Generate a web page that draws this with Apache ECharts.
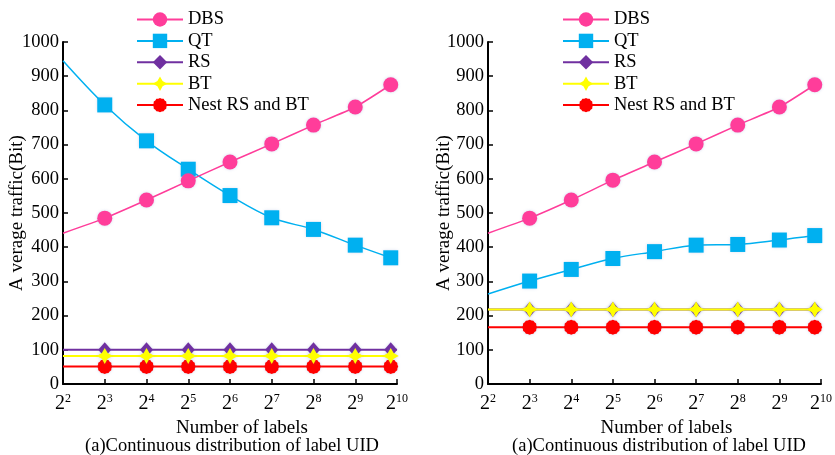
<!DOCTYPE html>
<html>
<head>
<meta charset="utf-8">
<script src="https://cdn.jsdelivr.net/npm/echarts@6/dist/echarts.min.js"></script>
<style>html,body{margin:0;padding:0;background:#fff;}#c{width:835px;height:455px;}</style>
</head>
<body>
<div id="c"></div>
<script>
// ---- data ----
const seriesNames = ['DBS', 'QT', 'RS', 'BT', 'Nest RS and BT'];
const xExponents = [2, 3, 4, 5, 6, 7, 8, 9, 9.85];   // log2(number of labels); first point = curve start (no marker)
const xTickExponents = [2, 3, 4, 5, 6, 7, 8, 9, 10];
const leftDBS  = [441, 485, 538, 594, 649, 702, 757, 810, 875];
const leftQT   = [945, 816, 711, 628, 551, 486, 452, 406, 369];
const leftRS   = [100, 100, 100, 100, 100, 100, 100, 100, 100];
const leftBT   = [82, 82, 82, 82, 82, 82, 82, 82, 82];
const leftNest = [51, 51, 51, 51, 51, 51, 51, 51, 51];
const rightDBS  = [441, 485, 538, 596, 649, 702, 757, 810, 875];
const rightQT   = [263, 301, 335, 367, 387, 406, 408, 421, 434];
const rightRS   = [218, 218, 218, 218, 218, 218, 218, 218, 218];
const rightBT   = [218, 218, 218, 218, 218, 218, 218, 218, 218];
const rightNest = [166, 166, 166, 166, 166, 166, 166, 166, 166];
const yTicks = [0, 100, 200, 300, 400, 500, 600, 700, 800, 900, 1000];
const yName = 'A verage traffic(Bit)';
const xName = 'Number of labels';
const caption = '(a)Continuous distribution of label UID';

// ---- styling ----
const FONT = 'Liberation Serif';
const colors = ['#FF3D9A', '#00B0F0', '#7030A0', '#FFFF00', '#FF0000'];
const starPath = 'path://M0,-10 L3.6,-3.6 L10,0 L3.6,3.6 L0,10 L-3.6,3.6 L-10,0 L-3.6,-3.6 Z';
const burstPath = 'path://' + (function(){
  let s = ''; const n = 24;
  for (let i = 0; i < n; i++) {
    const a = i / n * Math.PI * 2; const r = i % 2 ? 9.2 : 10;
    s += (i ? 'L' : 'M') + (r * Math.cos(a)).toFixed(2) + ',' + (r * Math.sin(a)).toFixed(2) + ' ';
  }
  return s + 'Z';
})();
const symbols = ['circle', 'rect', 'diamond', starPath, burstPath];
const symbolSizes = [15, 15, [13, 15], 16, 15];

function buildData(vals, extendFlat) {
  const d = vals.map((v, i) => {
    const p = { value: [xExponents[i], v] };
    if (i === 0) p.symbol = 'none';
    return p;
  });
  if (extendFlat) d.push({ value: [10, vals[vals.length - 1]], symbol: 'none' });
  return d;
}

function makeSeries(gi, arrs) {
  return arrs.map((vals, k) => ({
    name: seriesNames[k],
    type: 'line',
    xAxisIndex: gi, yAxisIndex: gi,
    data: buildData(vals, k >= 2),
    smooth: k === 1 ? 0.35 : (k === 0 ? 0.2 : false),
    symbol: symbols[k],
    symbolSize: symbolSizes[k],
    showAllSymbol: true,
    z: 10 - k + (k === 3 ? 2 : 0),
    lineStyle: { color: colors[k], width: k >= 2 ? 2 : 1.5 },
    itemStyle: { color: colors[k], shadowColor: 'rgba(120,140,200,0.35)', shadowBlur: 3 },
    emphasis: { disabled: true },
    animation: false
  }));
}

function xAxisCfg(gi) {
  return {
    gridIndex: gi, type: 'value', min: 2, max: 10, interval: 1,
    name: xName, nameLocation: 'middle', nameGap: 35, nameMoveOverlap: false,
    nameTextStyle: { fontFamily: FONT, fontSize: 19, color: '#000', padding: [0, 0, 0, 24] },
    axisLine: { show: true, onZero: false, lineStyle: { color: '#000', width: 2 } },
    axisTick: { show: true, inside: true, length: 5, lineStyle: { color: '#000', width: 1.5 } },
    splitLine: { show: false },
    axisLabel: {
      margin: 9,
      fontFamily: FONT,
      showMaxLabel: true, showMinLabel: true,
      formatter: v => xTickExponents.indexOf(v) >= 0 ? '{b|2}{s|' + v + '}' : '',
      rich: {
        b: { fontFamily: FONT, fontSize: 20, color: '#000' },
        s: { fontFamily: FONT, fontSize: 12, color: '#000', padding: [0, 0, 9, 0] }
      }
    }
  };
}

function yAxisCfg(gi, gap) {
  return {
    gridIndex: gi, type: 'value', min: 0, max: 1000, interval: 100,
    name: yName, nameLocation: 'middle', nameGap: gap, nameMoveOverlap: false,
    nameTextStyle: { fontFamily: FONT, fontSize: 19, color: '#000' },
    axisLine: { show: true, lineStyle: { color: '#000', width: 2 } },
    axisTick: { show: true, inside: true, length: 5, lineStyle: { color: '#000', width: 1.5 } },
    splitLine: { show: false },
    axisLabel: { fontFamily: FONT, fontSize: 18.5, color: '#000', margin: 4,
      formatter: v => yTicks.indexOf(v) >= 0 ? String(v) : '' }
  };
}

function legendCfg(left) {
  return {
    orient: 'vertical', left: left, top: 5,
    itemWidth: 46, itemHeight: 18, itemGap: 2.4,
    data: seriesNames,
    selectedMode: false,
    textStyle: { fontFamily: FONT, fontSize: 18.5, color: '#000', padding: [0, 0, 0, 0] }
  };
}

const chart = echarts.init(document.getElementById('c'), null, { renderer: 'canvas' });
chart.setOption({
  backgroundColor: '#fff',
  animation: false,
  textStyle: { fontFamily: FONT },
  grid: [
    { left: 63, right: 438, top: 42, bottom: 71 },
    { left: 488, right: 12, top: 42, bottom: 71 }
  ],
  legend: [legendCfg(131), legendCfg(557)],
  xAxis: [xAxisCfg(0), xAxisCfg(1)],
  yAxis: [yAxisCfg(0, 36), yAxisCfg(1, 34)],
  series: [].concat(
    makeSeries(0, [leftDBS, leftQT, leftRS, leftBT, leftNest]),
    makeSeries(1, [rightDBS, rightQT, rightRS, rightBT, rightNest])
  ),
  graphic: [
    { type: 'text', x: 232, y: 446, style: { text: caption, fontFamily: FONT, fontSize: 18.5, fill: '#000', align: 'center', verticalAlign: 'middle' } },
    { type: 'text', x: 659, y: 446, style: { text: caption, fontFamily: FONT, fontSize: 18.5, fill: '#000', align: 'center', verticalAlign: 'middle' } }
  ]
});
</script>
</body>
</html>
